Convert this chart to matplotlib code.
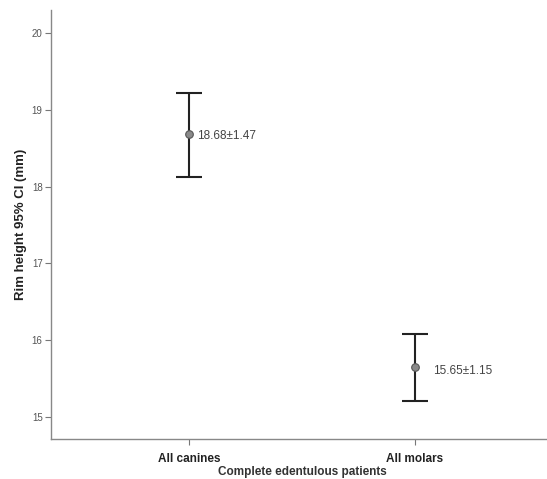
import matplotlib
matplotlib.use("Agg")
import matplotlib.pyplot as plt
import numpy as np

categories = ["All canines", "All molars"]
means = [18.68, 15.65]
ci_lower = [18.12, 15.21]
ci_upper = [19.22, 16.08]
labels = ["18.68±1.47", "15.65±1.15"]
yticks = [15, 16, 17, 18, 19, 20]

plt.rcParams['font.family'] = ['Liberation Sans', 'DejaVu Sans']
fig = plt.figure(figsize=(5.47, 4.79), dpi=100)
ax = fig.add_axes([0.0932, 0.0835, 0.905, 0.8955])

x = np.arange(len(categories))
m = np.array(means)
yerr = np.vstack([m - np.array(ci_lower), np.array(ci_upper) - m])
ax.errorbar(x, m, yerr=yerr, fmt='none', ecolor='#222222', elinewidth=1.5,
            capsize=9.5, capthick=1.5, zorder=2)
ax.scatter(x, m, s=30, color='#8a8a8a', edgecolor='#555555', linewidth=0.8, zorder=3)
offsets = [(6, -1), (13, -3)]
for xi, yi, lab, off in zip(x, m, labels, offsets):
    ax.annotate(lab, (xi, yi), xytext=off, textcoords='offset points',
                fontsize=8.5, color='#444444', va='center', ha='left')

ax.set_xlim(-0.61, 1.58)
ax.set_ylim(14.71, 20.30)
ax.set_xticks(x)
ax.set_xticklabels(categories, fontsize=8.5, fontweight='bold', color='#222222')
ax.set_yticks(yticks)
ax.set_yticklabels([str(v) for v in yticks], fontsize=7, color='#555555')
ax.set_ylabel("Rim height 95% CI (mm)", fontsize=9.5, fontweight='bold', color='#222222')
ax.yaxis.set_label_coords(-0.048, 0.5)
ax.set_xlabel("Complete edentulous patients", fontsize=8.5, fontweight='bold', color='#333333')
ax.xaxis.set_label_coords(0.507, -0.062)
for s in ['top', 'right']:
    ax.spines[s].set_visible(False)
for s in ['left', 'bottom']:
    ax.spines[s].set_color('#888888')
    ax.spines[s].set_linewidth(1.0)
ax.tick_params(axis='both', colors='#777777', length=4, width=0.8)
ax.tick_params(axis='x', labelcolor='#222222', pad=6)
ax.tick_params(axis='y', labelcolor='#555555', pad=2)

fig.savefig("out.png", dpi=100)
